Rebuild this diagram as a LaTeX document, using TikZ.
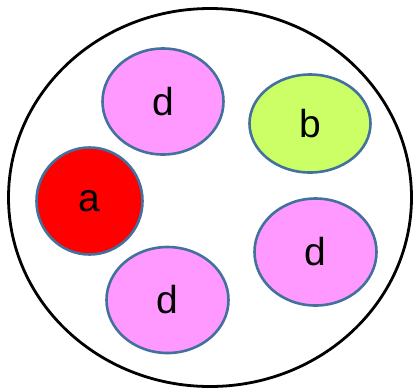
\documentclass[tikz,border=0pt]{standalone}
\usepackage{fontspec}
\setmainfont{Liberation Sans}
\usetikzlibrary{shapes.geometric}
\definecolor{pinkfill}{HTML}{FF99FF}
\definecolor{limefill}{HTML}{CCFF66}
\definecolor{rimblue}{HTML}{41719C}
\begin{document}
\begin{tikzpicture}[
    x=1pt, y=-1pt,
    blob/.style = {ellipse, draw=rimblue, line width=2.6pt, inner sep=0pt,
                   font=\fontsize{39}{41}\selectfont},
    dblob/.style = {blob, fill=pinkfill, minimum width=121pt, minimum height=106pt}
  ]
  \useasboundingbox (0,0) rectangle (414,389);
  % outer ring at explicit coordinates (in px of the reference)
  \node[ellipse, draw, line width=2.8pt, minimum width=403pt, minimum height=378pt] (ring) at (210,197.5) {};

  % the five members inside the ring
  \node[dblob] (dtop)    at (163,101.5) {d};
  \node[blob, fill=limefill, minimum width=121pt, minimum height=98pt] (b) at (310,123.5) {b};
  \node[blob, fill=red, minimum width=106pt, minimum height=107pt] (a) at (89.5,201) {a};
  \node[dblob, minimum width=122pt] (dbottom) at (167.5,300) {d};
  \node[dblob, minimum width=122pt, minimum height=107pt] (dright) at (315.5,252) {d};
\end{tikzpicture}
\end{document}
